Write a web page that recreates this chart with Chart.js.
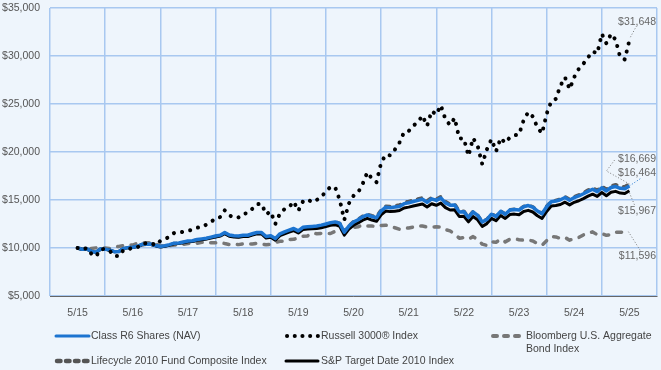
<!DOCTYPE html>
<html>
<head>
<meta charset="utf-8">
<script src="https://cdn.jsdelivr.net/npm/chart.js@4.4.0/dist/chart.umd.min.js"></script>
<style>
  html, body { margin: 0; padding: 0; background: #eef5fc; }
  canvas { display: block; }
</style>
</head>
<body>
<canvas id="growth" width="661" height="370"></canvas>
<script>
// year labels on the x axis, one per May from 2015 to 2025
const tickLabels = ['5/15', '5/16', '5/17', '5/18', '5/19', '5/20', '5/21', '5/22', '5/23', '5/24', '5/25'];

// monthly growth of $10,000, May 2015 .. May 2025
const classR6 = [
    10000, 9860, 9920, 9650, 9560, 9900, 9880, 9780, 9620, 9640,
    9960, 10040, 10080, 10180, 10380, 10400, 10410, 10260, 10160, 10230,
    10350, 10500, 10530, 10620, 10720, 10760, 10880, 10950, 11020, 11130,
    11250, 11340, 11620, 11350, 11270, 11250, 11330, 11330, 11480, 11620,
    11620, 11200, 11280, 10980, 11480, 11680, 11860, 12030, 11780, 12160,
    12220, 12250, 12290, 12380, 12500, 12640, 12720, 12560, 11650, 12280,
    12700, 12950, 13250, 13450, 13280, 13150, 13850, 14250, 14200, 14260,
    14330, 14620, 14720, 14840, 14960, 15080, 14760, 15120, 14960, 15200,
    14700, 14460, 14480, 13760, 13780, 13180, 13760, 13400, 12700, 12960,
    13520, 13280, 13820, 13520, 13950, 14000, 13950, 14300, 14420, 14250,
    13850, 13560, 14300, 14820, 14900, 15020, 15260, 14980, 15250, 15420,
    15650, 15900, 16120, 15870, 16280, 15940, 16300, 16400, 16220, 16180,
    16464
];

const russell3000 = [
    10000, 9830, 10000, 9400, 9130, 9850, 9910, 9700, 9160, 9155,
    9800, 9860, 10040, 10060, 10460, 10490, 10510, 10280, 10740, 10950,
    11160, 11570, 11580, 11700, 11790, 11900, 12120, 12150, 12440, 12710,
    13090, 13220, 13920, 13410, 13140, 13190, 13560, 13640, 14090, 14570,
    14600, 13520, 13790, 12510, 13580, 14060, 14270, 14840, 13880, 14850,
    15070, 14770, 15010, 15320, 15900, 16360, 16340, 15000, 12930, 14640,
    15430, 15780, 16680, 17880, 17240, 16860, 18870, 19720, 19640, 20250,
    20980, 22070, 22180, 22730, 23120, 23790, 22720, 24270, 23900, 24860,
    23390, 22810, 23540, 21420, 21400, 19600, 21450, 20650, 18730, 20270,
    21320, 20060, 21450, 20950, 21520, 21740, 21830, 23310, 24150, 23690,
    22550, 21940, 23980, 25250, 25530, 26910, 27770, 26550, 27800, 28660,
    29200, 29850, 30480, 30270, 32300, 31300, 32300, 31690, 29850, 29640,
    31648
];

const bloombergAgg = [
    10000, 9891, 9960, 9946, 10014, 10016, 9990, 9958, 10095, 10167,
    10260, 10299, 10302, 10488, 10554, 10542, 10536, 10456, 10208, 10222,
    10243, 10312, 10307, 10386, 10466, 10455, 10500, 10594, 10543, 10550,
    10536, 10584, 10462, 10363, 10429, 10352, 10426, 10413, 10415, 10482,
    10415, 10332, 10394, 10585, 10697, 10691, 10896, 10899, 11093, 11233,
    11258, 11549, 11488, 11522, 11516, 11508, 11729, 11940, 11870, 12081,
    12138, 12214, 12396, 12296, 12290, 12235, 12355, 12372, 12283, 12106,
    11955, 12049, 12089, 12174, 12310, 12287, 12180, 12176, 12213, 12181,
    11919, 11786, 11458, 11024, 11095, 10921, 11187, 10870, 10400, 10265,
    10643, 10595, 10921, 10638, 10908, 10975, 10855, 10816, 10808, 10739,
    10466, 10301, 10768, 11180, 11150, 10993, 11094, 10813, 10997, 11101,
    11361, 11525, 11679, 11389, 11510, 11322, 11382, 11632, 11637, 11682,
    11596
];

const lifecycleComposite = [
    10000, 9855, 9912, 9645, 9555, 9890, 9870, 9770, 9615, 9632,
    9950, 10028, 10065, 10165, 10360, 10380, 10388, 10238, 10135, 10205,
    10322, 10470, 10498, 10585, 10685, 10722, 10840, 10908, 10975, 11082,
    11200, 11288, 11560, 11290, 11208, 11185, 11262, 11260, 11408, 11545,
    11542, 11120, 11195, 10890, 11385, 11582, 11758, 11922, 11670, 12045,
    12100, 12125, 12162, 12248, 12362, 12498, 12720, 12570, 11670, 12310,
    12740, 13000, 13310, 13520, 13360, 13240, 13950, 14360, 14320, 14390,
    14470, 14760, 14860, 14980, 15100, 15220, 14900, 15260, 15100, 15340,
    14830, 14580, 14580, 13840, 13840, 13230, 13800, 13430, 12730, 12990,
    13550, 13310, 13850, 13550, 13980, 14030, 13980, 14330, 14450, 14280,
    13880, 13590, 14340, 14870, 14960, 15090, 15340, 15070, 15350, 15530,
    15770, 16030, 16260, 16020, 16440, 16110, 16480, 16590, 16415, 16380,
    16669
];

const spTargetDate2010 = [
    10000, 9850, 9905, 9640, 9550, 9880, 9860, 9760, 9610, 9625,
    9940, 10015, 10050, 10150, 10340, 10360, 10365, 10215, 10110, 10180,
    10295, 10440, 10465, 10550, 10650, 10685, 10800, 10865, 10930, 11035,
    11150, 11235, 11500, 11230, 11145, 11120, 11195, 11190, 11335, 11470,
    11465, 11040, 11110, 10800, 11290, 11485, 11655, 11815, 11560, 11930,
    11980, 12000, 12035, 12115, 12225, 12355, 12430, 12260, 11340, 11960,
    12370, 12610, 12900, 13090, 12910, 12780, 13460, 13850, 13790, 13840,
    13900, 14170, 14260, 14370, 14480, 14590, 14270, 14610, 14450, 14680,
    14200, 13960, 13980, 13280, 13300, 12720, 13280, 12930, 12240, 12540,
    13080, 12850, 13380, 13080, 13480, 13530, 13460, 13810, 13920, 13750,
    13360, 13080, 13800, 14380, 14420, 14530, 14770, 14490, 14760, 14920,
    15150, 15400, 15610, 15370, 15780, 15450, 15800, 15900, 15720, 15680,
    15967
];

const fontFamily = '"Liberation Sans", Arial, sans-serif';
const gridColor = '#a8c8f0';
const blue = '#1c74d0';

// month index -> years since 5/15
const toPoints = arr => arr.map((v, i) => ({ x: i / 12, y: v }));
const isWhole = v => Math.abs(v - Math.round(v)) < 1e-6;
const money = v => '$' + Math.round(v).toLocaleString('en-US');

// end-of-line value labels with little dotted leaders
const endLabels = {
    id: 'endLabels',
    afterDatasetsDraw(chart) {
        const ctx = chart.ctx;
        const last = i => {
            const pts = chart.getDatasetMeta(i).data;
            return pts[pts.length - 1];
        };
        const r = last(1), lc = last(3), b = last(0), sp = last(4), bb = last(2);
        ctx.save();
        ctx.lineWidth = 1;
        ctx.setLineDash([1, 2]);
        ctx.strokeStyle = '#777';
        ctx.beginPath();
        ctx.moveTo(r.x + 1, r.y - 3);
        ctx.lineTo(r.x + 7, r.y - 14);
        ctx.moveTo(lc.x, lc.y);
        ctx.lineTo(lc.x - 23, lc.y - 13);
        ctx.lineTo(lc.x - 14, lc.y - 25);
        ctx.moveTo(sp.x, sp.y + 2);
        ctx.lineTo(sp.x + 5, sp.y + 14);
        ctx.moveTo(bb.x - 1, bb.y - 1);
        ctx.lineTo(bb.x + 11, bb.y + 18);
        ctx.stroke();
        ctx.strokeStyle = blue;
        ctx.beginPath();
        ctx.moveTo(b.x, b.y);
        ctx.lineTo(b.x + 12, b.y - 8);
        ctx.stroke();

        ctx.fillStyle = '#666';
        ctx.font = '10.5px ' + fontFamily;
        ctx.textAlign = 'right';
        ctx.textBaseline = 'middle';
        ctx.fillText(money(russell3000[russell3000.length - 1]), 656, r.y - 18);
        ctx.fillText(money(lifecycleComposite[lifecycleComposite.length - 1]), 656, lc.y - 25);
        ctx.fillText(money(classR6[classR6.length - 1]), 656, b.y - 13);
        ctx.fillText(money(spTargetDate2010[spTargetDate2010.length - 1]), 656, sp.y + 20);
        ctx.fillText(money(bloombergAgg[bloombergAgg.length - 1]), 656, bb.y + 23);
        ctx.restore();
    }
};

// legend laid out in three columns below the axis
const bottomLegend = {
    id: 'bottomLegend',
    afterDraw(chart) {
        const ctx = chart.ctx;
        ctx.save();
        ctx.lineCap = 'round';

        const line = (x1, x2, y, color, width, dash) => {
            ctx.beginPath();
            ctx.setLineDash(dash || []);
            ctx.strokeStyle = color;
            ctx.lineWidth = width;
            ctx.moveTo(x1, y);
            ctx.lineTo(x2, y);
            ctx.stroke();
        };

        line(56, 89, 336, blue, 3);
        line(287, 318, 336, '#000', 4, [0.1, 7.6]);
        line(493, 522, 336, '#777', 4, [4, 7]);
        line(57, 88, 361, '#555', 4.5, [3.5, 5.5]);
        line(286, 318, 361, '#000', 3);

        ctx.setLineDash([]);
        ctx.fillStyle = '#444';
        ctx.font = '10.5px ' + fontFamily;
        ctx.textBaseline = 'middle';
        ctx.textAlign = 'left';
        ctx.fillText('Class R6 Shares (NAV)', 91, 336);
        ctx.fillText('Russell 3000® Index', 321, 336);
        ctx.fillText('Bloomberg U.S. Aggregate', 526, 336);
        ctx.fillText('Bond Index', 526, 349);
        ctx.fillText('Lifecycle 2010 Fund Composite Index', 91, 361);
        ctx.fillText('S&P Target Date 2010 Index', 321, 361);
        ctx.restore();
    }
};

const ctx = document.getElementById('growth');

const growthChart = new Chart(ctx, {
    type: 'line',
    data: {
        datasets: [
            {
                label: 'Class R6 Shares (NAV)',
                data: toPoints(classR6),
                borderColor: blue,
                borderWidth: 3.5,
                order: 1
            },
            {
                label: 'Russell 3000® Index',
                data: toPoints(russell3000),
                borderColor: '#000',
                borderWidth: 4,
                borderDash: [0.1, 8.2],
                borderCapStyle: 'round',
                order: 0
            },
            {
                label: 'Bloomberg U.S. Aggregate Bond Index',
                data: toPoints(bloombergAgg),
                borderColor: '#777',
                borderWidth: 3.5,
                borderDash: [5, 8.5],
                borderCapStyle: 'round',
                order: 4
            },
            {
                label: 'Lifecycle 2010 Fund Composite Index',
                data: toPoints(lifecycleComposite),
                borderColor: '#5a5a5a',
                borderWidth: 3.5,
                borderDash: [4, 7],
                borderCapStyle: 'round',
                order: 3
            },
            {
                label: 'S&P Target Date 2010 Index',
                data: toPoints(spTargetDate2010),
                borderColor: '#000',
                borderWidth: 3,
                order: 2
            }
        ]
    },
    options: {
        responsive: false,
        animation: false,
        events: [],
        layout: { padding: { left: 0, right: 4, top: 8, bottom: 46 } },
        elements: {
            point: { radius: 0 },
            line: { tension: 0, borderJoinStyle: 'round' }
        },
        plugins: {
            legend: { display: false },
            tooltip: { enabled: false }
        },
        scales: {
            x: {
                type: 'linear',
                min: -0.5,
                max: 10.5,
                afterFit: s => {
                    s.height = 28;
                    s.paddingLeft = 0;
                    s.paddingRight = 0;
                },
                ticks: {
                    stepSize: 0.5,
                    autoSkip: false,
                    maxRotation: 0,
                    padding: 11,
                    color: '#555',
                    font: { family: fontFamily, size: 10.5 },
                    callback: v => isWhole(v) ? (tickLabels[Math.round(v)] || '') : ''
                },
                grid: {
                    drawTicks: false,
                    lineWidth: 1.5,
                    color: c => (c.tick && isWhole(c.tick.value)) ? 'rgba(0,0,0,0)' : gridColor
                },
                border: { color: '#666', width: 1 }
            },
            y: {
                min: 5000,
                max: 35000,
                afterFit: s => {
                    s.width = 50;
                    s.paddingTop = 0;
                    s.paddingBottom = 0;
                },
                ticks: {
                    stepSize: 5000,
                    padding: 10,
                    color: '#555',
                    font: { family: fontFamily, size: 10.5 },
                    callback: v => money(v)
                },
                grid: { drawTicks: false, color: gridColor, lineWidth: 1.5 },
                border: { display: false }
            }
        }
    },
    plugins: [endLabels, bottomLegend]
});
</script>
</body>
</html>
